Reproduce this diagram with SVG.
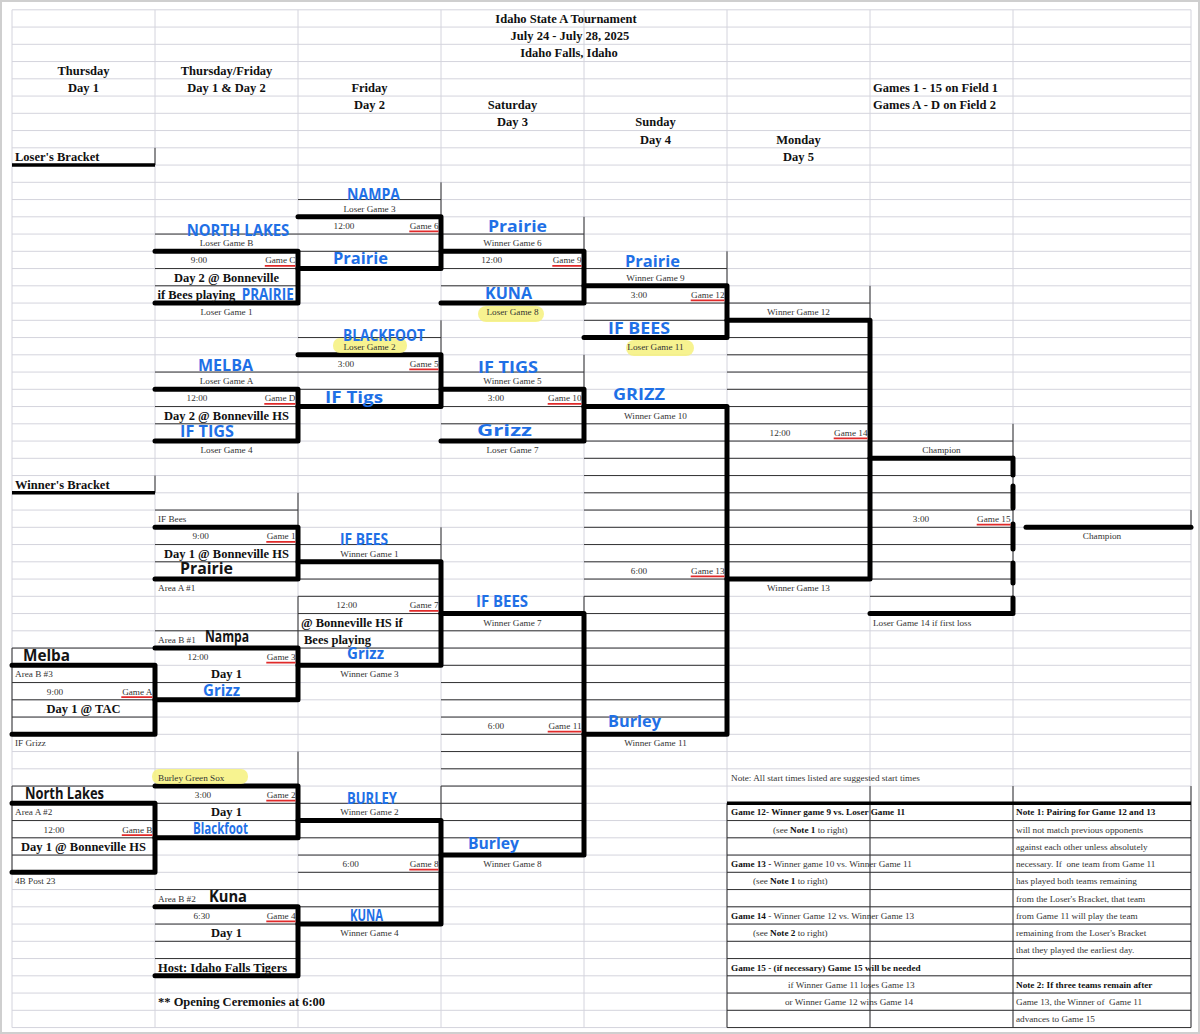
<svg xmlns="http://www.w3.org/2000/svg" width="1200" height="1034" viewBox="0 0 1200 1034">
<style>
.g{stroke:#d4d4dd;stroke-width:1;fill:none}
.k{stroke:#333;stroke-width:1;fill:none}
.K{stroke:#000;stroke-width:5;fill:none;stroke-linecap:round;stroke-linejoin:round}
.K3{stroke:#000;stroke-width:3.5;fill:none}
.u{stroke:#e02a2a;stroke-width:1.7}
text{font-family:"Liberation Serif","Times New Roman",serif}
.s{font-size:9.2px;fill:#333}
.n{font-size:9.2px;font-weight:bold;fill:#111}
.b{font-size:12.5px;font-weight:bold;fill:#111}
.c{text-anchor:middle}
.e{text-anchor:end}
.h{font-family:"Open Sans","DejaVu Sans",sans-serif;font-weight:bold;font-size:16px;fill:#1f70e6}
.hk{fill:#141414}
.hl{fill:#f6f17c;opacity:.85}
.pre{white-space:pre}
</style>
<rect x="1" y="1" width="1198" height="1032" fill="#fff" stroke="#cfcfcf" stroke-width="2"/>
<g id="grid">
<path class="g" d="M12 9.8H1191M12 27.05H1191M12 44.3H1191M12 61.55H1191M12 78.8H1191M12 96.05H1191M12 113.3H1191M12 130.55H1191M12 147.8H1191M12 165.05H1191M12 182.3H1191M12 199.55H1191M12 216.8H1191M12 234.05H1191M12 251.3H1191M12 268.55H1191M12 285.8H1191M12 303.05H1191M12 320.3H1191M12 337.55H1191M12 354.8H1191M12 372.05H1191M12 389.3H1191M12 406.55H1191M12 423.8H1191M12 441.05H1191M12 458.3H1191M12 475.55H1191M12 492.8H1191M12 510.05H1191M12 527.3H1191M12 544.55H1191M12 561.8H1191M12 579.05H1191M12 596.3H1191M12 613.55H1191M12 630.8H1191M12 648.05H1191M12 665.3H1191M12 682.55H1191M12 699.8H1191M12 717.05H1191M12 734.3H1191M12 751.55H1191M12 768.8H1191M12 786.05H1191M12 803.3H1191M12 820.55H1191M12 837.8H1191M12 855.05H1191M12 872.3H1191M12 889.55H1191M12 906.8H1191M12 924.05H1191M12 941.3H1191M12 958.55H1191M12 975.8H1191M12 993.05H1191M12 1010.3H1191M12 1027.55H1191M12 9.8V1027.55M155 9.8V1027.55M298 9.8V1027.55M441 9.8V1027.55M584 9.8V1027.55M727 9.8V1027.55M870 9.8V1027.55M1013 9.8V1027.55M1191 9.8V1027.55"/>
</g>
<g id="cell-borders">
<path class="k" d="M155 234.05H298M155 268.55H298M155 285.8H298
M298 199.55H441M298 234.05H441M298 251.3H441M441 182.3V216.8
M441 234.05H584M441 268.55H584M441 285.8H584M584 216.8V251.3
M584 268.55H727M584 303.05H727M584 320.3H727M727 251.3V285.8
M298 337.55H441M298 372.05H441M298 389.3H441M441 320.3V354.8
M155 372.05H298M155 406.55H298M155 423.8H298
M441 372.05H584M441 406.55H584M441 423.8H584M584 354.8V389.3
M727 303.05H870M727 337.55H870M727 354.8H870M727 372.05H870M727 389.3H870M727 406.55H870M727 423.8H870M727 441.05H870M727 458.3H870M727 475.55H870M727 492.8H870M727 510.05H870M727 527.3H870M727 544.55H870M727 561.8H870M870 285.8V320.3
M584 423.8H727M584 441.05H727M584 458.3H727M584 475.55H727M584 492.8H727M584 510.05H727M584 527.3H727M584 544.55H727M584 561.8H727M584 579.05H727M584 596.3H727M584 613.55H727M584 630.8H727M584 648.05H727M584 665.3H727M584 682.55H727M584 699.8H727M584 717.05H727
M870 441.05H1013M870 475.55H1013M870 492.8H1013M870 510.05H1013M870 527.3H1013M870 544.55H1013M870 561.8H1013M870 579.05H1013M870 596.3H1013M1013 423.8V613.55M1191 510.05V527.3
M155 510.05H298M155 544.55H298M155 561.8H298M298 492.8V527.3
M298 544.55H441M298 579.05H441M298 596.3H441M298 613.55H441M298 630.8H441M298 648.05H441M441 527.3V561.8M298 596.3V665.3
M441 630.8H584M441 648.05H584M441 665.3H584M441 682.55H584M441 699.8H584M441 717.05H584M441 734.3H584M441 751.55H584M441 768.8H584M441 786.05H584M441 803.3H584M441 820.55H584M441 837.8H584M584 596.3V613.55
M155 630.8H298M155 682.55H298M155 699.8H298
M12 648.05H155M12 699.8H155M12 717.05H155M12 682.55H155M12 648.05V734.3
M155 803.3H298M155 820.55H298M298 751.55V786.05
M12 786.05H155M12 820.55H155M12 837.8H155M12 855.05H155M12 786.05V872.3
M298 803.3H441M298 837.8H441M298 855.05H441M298 872.3H441M298 889.55H441M298 906.8H441M441 786.05V820.55
M155 889.55H298M155 941.3H298M155 958.55H298M155 924.05H298
M155 147.8V165.05M155 475.55V492.8
M727 820.55H1191M727 837.8H1191M727 855.05H1191M727 872.3H1191M727 889.55H1191M727 906.8H1191M727 924.05H1191M727 941.3H1191M727 958.55H1191M727 975.8H1191M727 993.05H1191M727 1010.3H1191M727 1027.55H1191M727 803.3V1027.55M870 786.05V1027.55M1013 786.05V1027.55M1191 786.05V1027.55"/>
</g>
<g id="connectors">
<path class="K3" d="M12 165.05H155M12 492.8H155M727 803.3H1191"/>
<path class="K" d="M155 251.3H298V303.05H155"/>
<path class="K" d="M298 216.8H441V268.55H298"/>
<path class="K" d="M441 251.3H584V303.05H441"/>
<path class="K" d="M584 285.8H727V337.55H584"/>
<path class="K" d="M298 354.8H441V406.55H298"/>
<path class="K" d="M155 389.3H298V441.05H155"/>
<path class="K" d="M441 389.3H584V441.05H441"/>
<path class="K" d="M727 320.3H870V579.05H727"/>
<path class="K" d="M584 406.55H727V734.3H584"/>
<path class="K" d="M870 458.3H1013M870 613.55H1013M1013 458V475M1013 486V508M1013 524V549M1013 563V583M1013 598V612"/>
<path class="K" d="M1026 527.3H1191"/>
<path class="K" d="M155 527.3H298V579.05H155"/>
<path class="K" d="M298 561.8H441V665.3H298"/>
<path class="K" d="M441 613.55H584V855.05H441"/>
<path class="K" d="M155 648.05H298V699.8H155"/>
<path class="K" d="M12 665.3H155V734.3H12"/>
<path class="K" d="M155 786.05H298V837.8H155"/>
<path class="K" d="M12 803.3H155V872.3H12"/>
<path class="K" d="M298 820.55H441V924.05H298"/>
<path class="K" d="M155 906.8H298V975.8H155"/>
</g>
<g id="underlines">
<path class="u" d="M264.8 265.8H295.5M409.3 231.3H438.5M552.3 265.8H581.5M690.7 300.3H724.5M409.3 369.3H438.5M264.3 403.8H295.5M547.7 403.8H581.5M833.7 438.3H867.5M976.7 524.55H1010.5M266.3 541.8H295.5M409.3 610.8H438.5M266.3 662.55H295.5M121.3 697.05H152.5M690.7 576.3H724.5M547.7 731.55H581.5M266.3 800.55H295.5M121.8 835.05H152.5M409.3 869.55H438.5M266.3 921.3H295.5"/>
</g>
<g id="highlights">
<rect class="hl" x="478" y="306" width="66" height="16" rx="8"/>
<rect class="hl" x="333" y="338" width="74" height="15" rx="7"/>
<rect class="hl" x="626" y="340" width="68" height="16" rx="8"/>
<rect class="hl" x="152" y="769" width="96" height="15" rx="7"/>
</g>
<g id="header">
<text class="b c" x="566" y="22.9">Idaho State A Tournament</text>
<text class="b c" x="570" y="40.15">July 24 - July 28, 2025</text>
<text class="b c" x="569" y="57.4">Idaho Falls, Idaho</text>
<text class="b c" x="83.5" y="74.65">Thursday</text>
<text class="b c" x="226.5" y="74.65">Thursday/Friday</text>
<text class="b c" x="83.5" y="91.9">Day 1</text>
<text class="b c" x="226.5" y="91.9">Day 1 &amp; Day 2</text>
<text class="b c" x="369.5" y="91.9">Friday</text>
<text class="b" x="873" y="91.9">Games 1 - 15 on Field 1</text>
<text class="b c" x="369.5" y="109.15">Day 2</text>
<text class="b c" x="512.5" y="109.15">Saturday</text>
<text class="b" x="873" y="109.15">Games A - D on Field 2</text>
<text class="b c" x="512.5" y="126.4">Day 3</text>
<text class="b c" x="655.5" y="126.4">Sunday</text>
<text class="b c" x="655.5" y="143.65">Day 4</text>
<text class="b c" x="798.5" y="143.65">Monday</text>
<text class="b c" x="798.5" y="160.9">Day 5</text>
<text class="b" x="15" y="160.9">Loser's Bracket</text>
<text class="b" x="15" y="488.65">Winner's Bracket</text>
</g>
<g id="game-C">
<text class="h" x="186.7" y="235.5" font-size="14" textLength="102.6" lengthAdjust="spacingAndGlyphs">NORTH LAKES</text>
<text class="s c" x="226.5" y="246.15">Loser Game B</text>
<text class="s c" x="199" y="263.4">9:00</text>
<text class="s e" x="295.5" y="263.4">Game C</text>
<text class="b c" x="226.5" y="281.65">Day 2 @ Bonneville</text>
<text class="b" x="157.5" y="298.9">if Bees playing</text>
<text class="h" x="241.7" y="300" textLength="52" lengthAdjust="spacingAndGlyphs">PRAIRIE</text>
<text class="s c" x="226.5" y="315.15">Loser Game 1</text>
</g>
<g id="game-6">
<text class="h" x="347" y="200" font-size="15" textLength="53" lengthAdjust="spacingAndGlyphs">NAMPA</text>
<text class="s c" x="369.5" y="211.65">Loser Game 3</text>
<text class="s c" x="344" y="228.9">12:00</text>
<text class="s e" x="438.5" y="228.9">Game 6</text>
<text class="h" x="333" y="264" font-size="17" textLength="55" lengthAdjust="spacingAndGlyphs">Prairie</text>
</g>
<g id="game-9">
<text class="h" x="488" y="232" font-size="15" textLength="59" lengthAdjust="spacingAndGlyphs">Prairie</text>
<text class="s c" x="512.5" y="246.15">Winner Game 6</text>
<text class="s c" x="491.7" y="263.4">12:00</text>
<text class="s e" x="581.5" y="263.4">Game 9</text>
<text class="h" x="485" y="299" textLength="47" lengthAdjust="spacingAndGlyphs">KUNA</text>
<text class="s c" x="512.5" y="315.15">Loser Game 8</text>
</g>
<g id="game-12">
<text class="h" x="625" y="267" font-size="14" textLength="55" lengthAdjust="spacingAndGlyphs">Prairie</text>
<text class="s c" x="655.5" y="280.65">Winner Game 9</text>
<text class="s c" x="639" y="297.9">3:00</text>
<text class="s e" x="724.5" y="297.9">Game 12</text>
<text class="h" x="608" y="334" font-size="15" textLength="62" lengthAdjust="spacingAndGlyphs">IF BEES</text>
<text class="s c" x="655.5" y="349.65">Loser Game 11</text>
</g>
<g id="game-5">
<text class="s c" x="369.5" y="349.65">Loser Game 2</text>
<text class="h" x="343" y="340.5" font-size="14" textLength="82" lengthAdjust="spacingAndGlyphs">BLACKFOOT</text>
<text class="s c" x="346" y="366.9">3:00</text>
<text class="s e" x="438.5" y="366.9">Game 5</text>
<text class="h" x="325" y="403" font-size="18" textLength="58" lengthAdjust="spacingAndGlyphs">IF Tigs</text>
</g>
<g id="game-D">
<text class="h" x="198" y="371" font-size="15" textLength="55" lengthAdjust="spacingAndGlyphs">MELBA</text>
<text class="s c" x="226.5" y="384.15">Loser Game A</text>
<text class="s c" x="197" y="401.4">12:00</text>
<text class="s e" x="295.5" y="401.4">Game D</text>
<text class="b c" x="226.5" y="419.65">Day 2 @ Bonneville HS</text>
<text class="h" x="180" y="437" textLength="54" lengthAdjust="spacingAndGlyphs">IF TIGS</text>
<text class="s c" x="226.5" y="453.15">Loser Game 4</text>
</g>
<g id="game-10">
<text class="h" x="478" y="373" font-size="15" textLength="60" lengthAdjust="spacingAndGlyphs">IF TIGS</text>
<text class="s c" x="512.5" y="384.15">Winner Game 5</text>
<text class="s c" x="496" y="401.4">3:00</text>
<text class="s e" x="581.5" y="401.4">Game 10</text>
<text class="h" x="477" y="436" textLength="55" lengthAdjust="spacingAndGlyphs">Grizz</text>
<text class="s c" x="512.5" y="453.15">Loser Game 7</text>
</g>
<g id="game-14">
<text class="s c" x="798.5" y="315.15">Winner Game 12</text>
<text class="s c" x="780" y="435.9">12:00</text>
<text class="s e" x="867.5" y="435.9">Game 14</text>
</g>
<g id="game-13">
<text class="h" x="613" y="400" font-size="15" textLength="52" lengthAdjust="spacingAndGlyphs">GRIZZ</text>
<text class="s c" x="655.5" y="418.65">Winner Game 10</text>
<text class="s c" x="639" y="573.9">6:00</text>
<text class="s e" x="724.5" y="573.9">Game 13</text>
<text class="s c" x="798.5" y="591.15">Winner Game 13</text>
<text class="h" x="608" y="727" font-size="15" textLength="53" lengthAdjust="spacingAndGlyphs">Burley</text>
<text class="s c" x="655.5" y="746.4">Winner Game 11</text>
</g>
<g id="game-15">
<text class="s c" x="941.5" y="453.15">Champion</text>
<text class="s c" x="921" y="522.15">3:00</text>
<text class="s e" x="1010.5" y="522.15">Game 15</text>
<text class="s" x="873" y="625.65">Loser Game 14 if first loss</text>
</g>
<g id="champion">
<text class="s c" x="1102" y="539.4">Champion</text>
</g>
<g id="game-1">
<text class="s" x="158" y="522.15">IF Bees</text>
<text class="s c" x="200.7" y="539.4">9:00</text>
<text class="s e" x="295.5" y="539.4">Game 1</text>
<text class="b c" x="226.5" y="557.65">Day 1 @ Bonneville HS</text>
<text class="h hk" x="180" y="574" font-size="15" textLength="53" lengthAdjust="spacingAndGlyphs">Prairie</text>
<text class="s" x="158" y="591.15">Area A #1</text>
</g>
<g id="game-7">
<text class="s c" x="369.5" y="556.65">Winner Game 1</text>
<text class="h" x="340" y="545" font-size="13" textLength="48" lengthAdjust="spacingAndGlyphs">IF BEES</text>
<text class="s c" x="346.7" y="608.4">12:00</text>
<text class="s e" x="438.5" y="608.4">Game 7</text>
<text class="b" x="301" y="626.65">@ Bonneville HS if</text>
<text class="b" x="304" y="643.9">Bees playing</text>
<text class="h" x="347" y="659" font-size="13" textLength="37" lengthAdjust="spacingAndGlyphs">Grizz</text>
<text class="s c" x="369.5" y="677.4">Winner Game 3</text>
</g>
<g id="game-3">
<text class="s" x="158" y="642.9">Area B #1</text>
<text class="h hk" x="205" y="641.7" font-size="14" textLength="44" lengthAdjust="spacingAndGlyphs">Nampa</text>
<text class="s c" x="198" y="660.15">12:00</text>
<text class="s e" x="295.5" y="660.15">Game 3</text>
<text class="b c" x="226.5" y="678.4">Day 1</text>
<text class="h" x="203" y="695.5" font-size="12.5" textLength="37" lengthAdjust="spacingAndGlyphs">Grizz</text>
</g>
<g id="game-A">
<text class="h hk" x="23" y="660.7" font-size="14" textLength="47" lengthAdjust="spacingAndGlyphs">Melba</text>
<text class="s" x="15" y="677.4">Area B #3</text>
<text class="s c" x="55" y="694.65">9:00</text>
<text class="s e" x="152.5" y="694.65">Game A</text>
<text class="b c" x="83.5" y="712.9">Day 1 @ TAC</text>
<text class="s" x="15" y="746.4">IF Grizz</text>
</g>
<g id="game-11">
<text class="h" x="476" y="607" font-size="14" textLength="52" lengthAdjust="spacingAndGlyphs">IF BEES</text>
<text class="s c" x="512.5" y="625.65">Winner Game 7</text>
<text class="s c" x="496" y="729.15">6:00</text>
<text class="s e" x="581.5" y="729.15">Game 11</text>
<text class="h" x="468" y="849" font-size="14" textLength="51" lengthAdjust="spacingAndGlyphs">Burley</text>
<text class="s c" x="512.5" y="867.15">Winner Game 8</text>
</g>
<g id="game-2">
<text class="s" x="158" y="780.9">Burley Green Sox</text>
<text class="s c" x="203" y="798.15">3:00</text>
<text class="s e" x="295.5" y="798.15">Game 2</text>
<text class="b c" x="226.5" y="816.4">Day 1</text>
<text class="h" x="193" y="834" font-size="13" textLength="55" lengthAdjust="spacingAndGlyphs">Blackfoot</text>
</g>
<g id="game-B">
<text class="h hk" x="25" y="799" font-size="14" textLength="79" lengthAdjust="spacingAndGlyphs">North Lakes</text>
<text class="s" x="15" y="815.4">Area A #2</text>
<text class="s c" x="54" y="832.65">12:00</text>
<text class="s e" x="152.5" y="832.65">Game B</text>
<text class="b c" x="83.5" y="850.9">Day 1 @ Bonneville HS</text>
<text class="s" x="15" y="884.4">4B Post 23</text>
</g>
<g id="game-8">
<text class="h" x="347" y="804" font-size="12" textLength="50" lengthAdjust="spacingAndGlyphs">BURLEY</text>
<text class="s c" x="369.5" y="815.4">Winner Game 2</text>
<text class="s c" x="350.7" y="867.15">6:00</text>
<text class="s e" x="438.5" y="867.15">Game 8</text>
<text class="h" x="350" y="920.7" font-size="12" textLength="33" lengthAdjust="spacingAndGlyphs">KUNA</text>
<text class="s c" x="369.5" y="936.15">Winner Game 4</text>
</g>
<g id="game-4">
<text class="s" x="158" y="901.65">Area B #2</text>
<text class="h hk" x="209" y="901.7" font-size="13" textLength="38" lengthAdjust="spacingAndGlyphs">Kuna</text>
<text class="s c" x="201.7" y="918.9">6:30</text>
<text class="s e" x="295.5" y="918.9">Game 4</text>
<text class="b c" x="226.5" y="937.15">Day 1</text>
<text class="b" x="158" y="971.65">Host: Idaho Falls Tigers</text>
<text class="b" x="158" y="1006.15">** Opening Ceremonies at 6:00</text>
</g>
<g id="notes">
<text class="s" x="731" y="780.9">Note: All start times listed are suggested start times</text>
<text class="n" x="731" y="815.4">Game 12- Winner game 9 vs. Loser Game 11</text>
<text class="s" x="773" y="832.65">(see <tspan font-weight="bold" fill="#111">Note 1</tspan> to right)</text>
<text class="s" x="731" y="867.15"><tspan font-weight="bold" fill="#111">Game 13 -</tspan> Winner game 10 vs. Winner Game 11</text>
<text class="s" x="753" y="884.4">(see <tspan font-weight="bold" fill="#111">Note 1</tspan> to right)</text>
<text class="s" x="731" y="918.9"><tspan font-weight="bold" fill="#111">Game 14</tspan> - Winner Game 12 vs. Winner Game 13</text>
<text class="s" x="753" y="936.15">(see <tspan font-weight="bold" fill="#111">Note 2</tspan> to right)</text>
<text class="n" x="731" y="970.65">Game 15 - (if necessary) Game 15 will be needed</text>
<text class="s" x="788" y="987.9">if Winner Game 11 loses Game 13</text>
<text class="s" x="785" y="1005.15">or Winner Game 12 wins Game 14</text>
<text class="n" x="1016" y="815.4">Note 1: Pairing for Game 12 and 13</text>
<text class="s" x="1016" y="832.65">will not match previous opponents</text>
<text class="s" x="1016" y="849.9">against each other unless absolutely</text>
<text class="s pre" x="1016" y="867.15">necessary. If  one team from Game 11</text>
<text class="s" x="1016" y="884.4">has played both teams remaining</text>
<text class="s" x="1016" y="901.65">from the Loser's Bracket, that team</text>
<text class="s" x="1016" y="918.9">from Game 11 will play the team</text>
<text class="s" x="1016" y="936.15">remaining from the Loser's Bracket</text>
<text class="s" x="1016" y="953.4">that they played the earliest day.</text>
<text class="n" x="1016" y="987.9">Note 2: If three teams remain after</text>
<text class="s pre" x="1016" y="1005.15">Game 13, the Winner of  Game 11</text>
<text class="s" x="1016" y="1022.4">advances to Game 15</text>
</g>
</svg>
